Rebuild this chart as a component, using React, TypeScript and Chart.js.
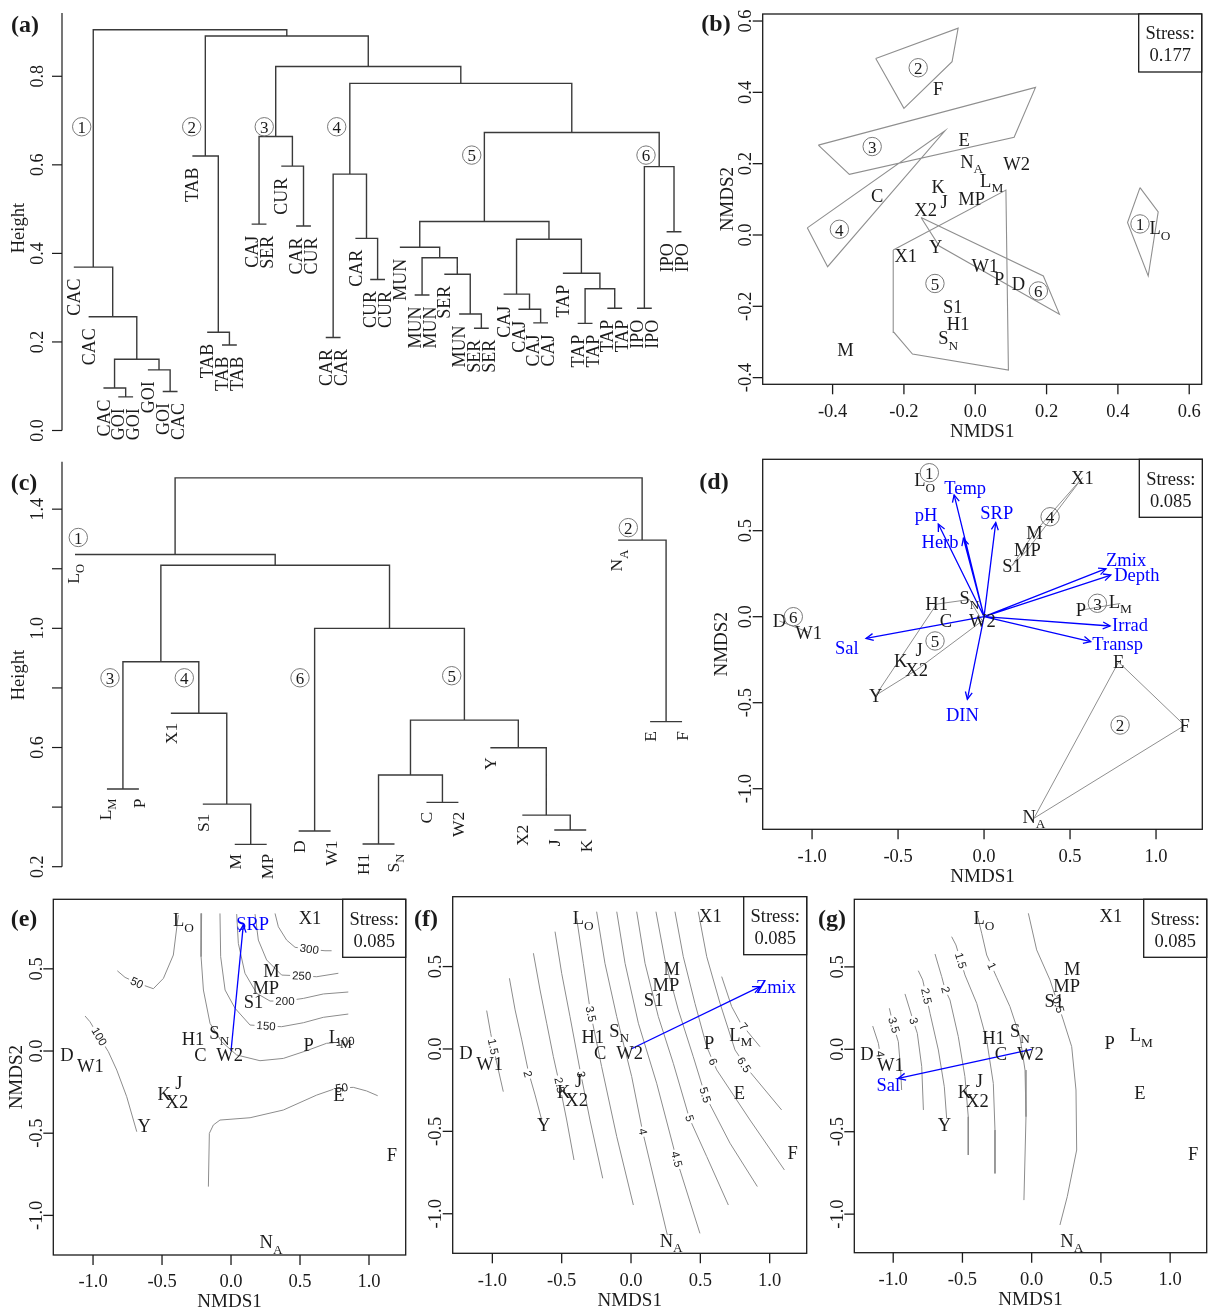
import React, { useEffect, useRef } from "react";
import { Chart, registerables } from "chart.js";

Chart.register(...registerables);

const SERIF = '"Liberation Serif", "Times New Roman", Times, serif';
const SANS = '"Liberation Sans", Arial, Helvetica, sans-serif';
const INK = "#1b1b1b";
const BLUE = "#0000ff";
const HULL = "#8f8f8f";
const CONTOUR = "#8c8c8c";
const TREE = "#3a3a3a";

/* ================= (a) sample dendrogram ================= */
const aLeafLabels = [
  "CAC", "CAC", "CAC", "GOI", "GOI", "GOI", "GOI", "CAC",
  "TAB", "TAB", "TAB", "TAB",
  "CAJ", "SER", "CUR", "CAR", "CUR",
  "CAR", "CAR", "CAR", "CUR", "CUR",
  "MUN", "MUN", "MUN", "SER", "MUN", "SER", "SER",
  "CAJ", "CAJ", "CAJ", "CAJ",
  "TAP", "TAP", "TAP", "TAP", "TAP",
  "IPO", "IPO", "IPO", "IPO",
];
// [left, right, height] : negative = leaf number, positive = earlier merge number
const aMerges = [
  [-4, -5, 0.076], [-3, 1, 0.096], [-7, -8, 0.088], [-6, 3, 0.137], [2, 4, 0.161],
  [-2, 5, 0.257], [-1, 6, 0.369],
  [-11, -12, 0.193], [-10, 8, 0.222], [-9, 9, 0.62],
  [-13, -14, 0.466], [-16, -17, 0.462], [-15, 12, 0.597], [11, 13, 0.664],
  [-18, -19, 0.21], [-21, -22, 0.341], [-20, 16, 0.434], [15, 17, 0.579],
  [-24, -25, 0.306], [-28, -29, 0.231], [-27, 20, 0.263], [-26, 21, 0.353], [19, 22, 0.39], [-23, 23, 0.414],
  [-32, -33, 0.243], [-31, 25, 0.274], [-30, 26, 0.308],
  [-35, -36, 0.242], [-37, -38, 0.276], [28, 29, 0.32], [-34, 30, 0.355], [27, 31, 0.432], [24, 32, 0.472],
  [-39, -40, 0.276], [-41, -42, 0.449], [34, 35, 0.596],
  [33, 36, 0.673], [18, 37, 0.784], [14, 38, 0.822], [10, 39, 0.891], [7, 40, 0.905],
];
const aHeightTicks = [0, 0.2, 0.4, 0.6, 0.8];
const aHeightTickLabels = ["0.0", "0.2", "0.4", "0.6", "0.8"];
const aGroupIds = [1, 2, 3, 4, 5, 6];
const aGroupX = [1.533, 8.955, 13.85, 18.74, 27.85, 39.61];
const aGroupY = [0.686, 0.686, 0.686, 0.686, 0.622, 0.622];

/* ================= (b) NMDS of samples ================= */
const bSiteNames = ["F", "E", "N_A", "W2", "K", "L_M", "C", "J", "MP", "X2", "L_O", "Y", "X1", "W1", "P", "D", "S1", "H1", "S_N", "M"];
const bSiteX = [-0.104, -0.031, -0.01, 0.116, -0.104, 0.046, -0.275, -0.087, -0.01, -0.139, 0.518, -0.111, -0.195, 0.027, 0.067, 0.121, -0.063, -0.048, -0.076, -0.364];
const bSiteY = [0.411, 0.268, 0.201, 0.201, 0.135, 0.148, 0.109, 0.093, 0.103, 0.072, 0.014, -0.033, -0.059, -0.087, -0.122, -0.136, -0.201, -0.248, -0.294, -0.322];
const bHull1 = [[0.462, 0.133], [0.513, 0.065], [0.485, -0.115], [0.427, 0.035]];
const bHull2 = [[-0.279, 0.495], [-0.048, 0.58], [-0.065, 0.486], [-0.2, 0.355]];
const bHull3 = [[-0.44, 0.252], [0.169, 0.414], [0.109, 0.274], [-0.353, 0.17]];
const bHull4 = [[-0.471, 0.02], [-0.085, 0.292], [-0.414, -0.089]];
const bHull5 = [[-0.23, -0.042], [0.086, 0.126], [0.093, -0.379], [-0.176, -0.334], [-0.228, -0.273]];
const bHull6 = [[-0.152, 0.049], [0.191, -0.115], [0.236, -0.222], [-0.101, -0.031]];
const bHulls = [bHull1, bHull2, bHull3, bHull4, bHull5, bHull6];
const bGroupIds = [1, 2, 3, 4, 5, 6];
const bGroupX = [0.462, -0.16, -0.289, -0.381, -0.113, 0.177];
const bGroupY = [0.031, 0.469, 0.248, 0.016, -0.136, -0.157];
const bTicks = [-0.4, -0.2, 0, 0.2, 0.4, 0.6];
const bTickLabels = ["-0.4", "-0.2", "0.0", "0.2", "0.4", "0.6"];
const bStress = "0.177";

/* ================= (c) site dendrogram ================= */
const cLeafLabels = ["L_O", "L_M", "P", "X1", "S1", "M", "MP", "D", "W1", "H1", "S_N", "C", "W2", "Y", "X2", "J", "K", "N_A", "E", "F"];
const cMerges = [
  [-2, -3, 0.461], [-6, -7, 0.275], [-5, 2, 0.41], [-4, 3, 0.715], [1, 4, 0.888],
  [-8, -9, 0.32], [-10, -11, 0.276], [-12, -13, 0.416], [7, 8, 0.508],
  [-16, -17, 0.323], [-15, 10, 0.373], [-14, 11, 0.599], [9, 12, 0.692],
  [6, 13, 1.0], [5, 14, 1.212], [-1, 15, 1.248],
  [-19, -20, 0.687], [-18, 17, 1.296], [16, 18, 1.505],
];
const cHeightTicks = [0.2, 0.4, 0.6, 0.8, 1.0, 1.2, 1.4];
const cHeightTickLabels = ["0.2", "", "0.6", "", "1.0", "", "1.4"];
const cGroupIds = [1, 3, 4, 6, 5, 2];
const cGroupX = [1.103, 2.095, 4.421, 8.042, 12.79, 18.318];
const cGroupY = [1.305, 0.834, 0.834, 0.834, 0.841, 1.338];

/* ================= (d)-(g) site NMDS ================= */
const siteNames = ["L_O", "X1", "M", "MP", "S1", "H1", "S_N", "C", "W2", "J", "K", "X2", "Y", "D", "W1", "P", "L_M", "E", "F", "N_A"];
const siteX = [-0.345, 0.572, 0.293, 0.252, 0.163, -0.276, -0.085, -0.222, -0.01, -0.378, -0.485, -0.392, -0.63, -1.19, -1.02, 0.563, 0.792, 0.782, 1.166, 0.29];
const siteY = [0.785, 0.808, 0.49, 0.388, 0.297, 0.073, 0.1, -0.024, -0.024, -0.191, -0.258, -0.309, -0.457, -0.025, -0.091, 0.038, 0.077, -0.264, -0.632, -1.172];
const dClusters = [
  ["L_O"],
  ["N_A", "E", "F"],
  ["L_M", "P"],
  ["X1", "S1", "M", "MP"],
  ["H1", "S_N", "C", "W2", "Y", "X2", "J", "K"],
  ["D", "W1"],
];
const dGroupIds = [1, 2, 3, 4, 5, 6];
const dGroupX = [-0.318, 0.791, 0.659, 0.384, -0.285, -1.109];
const dGroupY = [0.837, -0.63, 0.078, 0.581, -0.141, 0.0];
const dVectorNames = ["Temp", "pH", "Herb", "SRP", "Zmix", "Depth", "Irrad", "Transp", "Sal", "DIN"];
const dVectorX = [-0.174, -0.266, -0.12, 0.068, 0.709, 0.737, 0.733, 0.62, -0.686, -0.097];
const dVectorY = [0.708, 0.539, 0.456, 0.547, 0.279, 0.242, -0.054, -0.145, -0.126, -0.48];
const dVectorLabelX = [-0.11, -0.337, -0.256, 0.074, 0.826, 0.888, 0.849, 0.777, -0.798, -0.126];
const dVectorLabelY = [0.752, 0.591, 0.436, 0.605, 0.334, 0.242, -0.048, -0.155, -0.18, -0.571];
const ordXTicks = [-1, -0.5, 0, 0.5, 1];
const ordXTickLabels = ["-1.0", "-0.5", "0.0", "0.5", "1.0"];
const ordYTicks = [-1, -0.5, 0, 0.5];
const ordYTickLabels = ["-1.0", "-0.5", "0.0", "0.5"];
const ordStress = "0.085";

/* ---- (e) SRP surface ---- */
const eContourLevels = ["50", "100", "100", "150", "200", "250", "300", "50"];
const eContours = [
  [[-0.824, 0.488], [-0.768, 0.448], [-0.683, 0.415], [-0.563, 0.379], [-0.49, 0.442], [-0.418, 0.584], [-0.382, 0.827]],
  [[-1.058, 0.213], [-1.022, 0.178], [-0.957, 0.087], [-0.889, -0.004], [-0.828, -0.116], [-0.756, -0.278], [-0.683, -0.491]],
  [[-0.213, 0.837], [-0.217, 0.574], [-0.2, 0.371], [-0.152, 0.168], [-0.068, 0.057], [0.041, -0.024], [0.21, -0.059], [0.379, -0.045], [0.548, 0.002], [0.693, 0.047], [0.862, 0.057]],
  [[-0.08, 0.837], [-0.075, 0.574], [-0.043, 0.371], [0.029, 0.26], [0.138, 0.158], [0.254, 0.152], [0.367, 0.148], [0.524, 0.172], [0.669, 0.205], [0.85, 0.225]],
  [[0.041, 0.833], [0.053, 0.655], [0.101, 0.473], [0.186, 0.351], [0.283, 0.304], [0.391, 0.304], [0.524, 0.32], [0.669, 0.347], [0.85, 0.359]],
  [[0.174, 0.833], [0.198, 0.675], [0.258, 0.554], [0.367, 0.462], [0.512, 0.457], [0.621, 0.452], [0.778, 0.473]],
  [[0.319, 0.837], [0.343, 0.756], [0.403, 0.675], [0.464, 0.631], [0.567, 0.619], [0.681, 0.61], [0.729, 0.61]],
  [[-0.164, -0.825], [-0.157, -0.501], [-0.128, -0.45], [-0.08, -0.42], [0.138, -0.406], [0.379, -0.359], [0.621, -0.268], [0.741, -0.233], [0.802, -0.225], [0.886, -0.221], [0.983, -0.243], [1.063, -0.272]],
];
const eLabelX = [-0.683, -0.957, 0.826, 0.254, 0.391, 0.512, 0.567, 0.802];
const eLabelY = [0.415, 0.087, 0.057, 0.152, 0.304, 0.457, 0.619, -0.225];
const eVectorNames = ["SRP"];
const eVectorX = [0.089];
const eVectorY = [0.766];
const eVectorLabelX = [0.157];
const eVectorLabelY = [0.777];

/* ---- (f) Zmix surface ---- */
const fContourLevels = ["1.5", "2", "2.5", "3", "3.5", "4", "4.5", "5", "5.5", "6", "6.5", "7"];
const fContours = [
  [[-1.041, 0.233], [-1.012, 0.095], [-0.973, -0.067], [-0.921, -0.259]],
  [[-0.877, 0.429], [-0.836, 0.237], [-0.788, 0.055], [-0.74, -0.138], [-0.692, -0.279], [-0.644, -0.431]],
  [[-0.704, 0.581], [-0.656, 0.358], [-0.608, 0.156], [-0.56, -0.047], [-0.512, -0.229], [-0.464, -0.431], [-0.411, -0.674]],
  [[-0.548, 0.712], [-0.5, 0.459], [-0.44, 0.196], [-0.368, -0.127], [-0.296, -0.431], [-0.204, -0.785]],
  [[-0.392, 0.793], [-0.344, 0.52], [-0.291, 0.216], [-0.212, -0.107], [-0.103, -0.532], [0.017, -0.947]],
  [[-0.248, 0.833], [-0.188, 0.52], [-0.103, 0.196], [0.005, -0.168], [0.084, -0.502], [0.262, -1.129]],
  [[-0.103, 0.833], [-0.043, 0.52], [0.053, 0.156], [0.185, -0.208], [0.329, -0.67], [0.497, -1.119]],
  [[0.041, 0.833], [0.101, 0.52], [0.197, 0.196], [0.305, -0.087], [0.421, -0.421], [0.546, -0.653], [0.702, -0.947]],
  [[0.18, 0.833], [0.245, 0.54], [0.341, 0.237], [0.449, -0.047], [0.534, -0.279], [0.714, -0.572], [0.911, -0.835]],
  [[0.317, 0.833], [0.377, 0.56], [0.461, 0.277], [0.546, 0.014], [0.618, -0.127], [0.858, -0.431], [1.106, -0.734]],
  [[0.485, 0.833], [0.546, 0.56], [0.642, 0.277], [0.75, -0.006], [0.846, -0.127], [1.086, -0.37]],
  [[0.654, 0.439], [0.726, 0.257], [0.791, 0.156], [0.93, 0.014]],
];
const fLabelX = [-0.995, -0.745, -0.515, -0.36, -0.291, 0.084, 0.329, 0.421, 0.534, 0.59, 0.815, 0.81];
const fLabelY = [0.014, -0.152, -0.22, -0.154, 0.212, -0.502, -0.67, -0.421, -0.279, -0.077, -0.097, 0.136];
const fVectorNames = ["Zmix"];
const fVectorX = [0.93];
const fVectorY = [0.378];
const fVectorLabelX = [1.045];
const fVectorLabelY = [0.378];

/* ---- (g) Sal surface ---- */
const gContourLevels = ["4", "3.5", "3", "2.5", "2", "1.5", "1", "0.5"];
const gContours = [
  [[-1.148, 0.141], [-1.107, 0.036], [-1.095, -0.029]],
  [[-1.028, 0.249], [-0.999, 0.147], [-0.963, 0.046], [-0.946, -0.126], [-0.939, -0.247]],
  [[-0.915, 0.336], [-0.879, 0.238], [-0.855, 0.172], [-0.826, 0.097], [-0.794, -0.105], [-0.782, -0.368]],
  [[-0.819, 0.477], [-0.787, 0.421], [-0.761, 0.323], [-0.734, 0.218], [-0.674, -0.004], [-0.631, -0.227], [-0.614, -0.419]],
  [[-0.698, 0.578], [-0.65, 0.441], [-0.624, 0.36], [-0.59, 0.299], [-0.53, 0.077], [-0.482, -0.166], [-0.458, -0.409], [-0.458, -0.641]],
  [[-0.578, 0.683], [-0.547, 0.633], [-0.513, 0.538], [-0.482, 0.451], [-0.397, 0.279], [-0.325, 0.056], [-0.277, -0.207], [-0.265, -0.49], [-0.265, -0.753]],
  [[-0.397, 0.825], [-0.361, 0.704], [-0.325, 0.572], [-0.289, 0.505], [-0.253, 0.437], [-0.157, 0.259], [-0.085, 0.077], [-0.048, -0.126], [-0.041, -0.409], [-0.056, -0.915]],
  [[-0.024, 0.825], [0.036, 0.603], [0.132, 0.421], [0.192, 0.269], [0.228, 0.178], [0.289, 0.016], [0.32, -0.247], [0.325, -0.611], [0.257, -0.894], [0.204, -1.066]],
];
const gLabelX = [-1.095, -0.995, -0.854, -0.761, -0.624, -0.513, -0.289, 0.192];
const gLabelY = [-0.029, 0.147, 0.172, 0.323, 0.36, 0.538, 0.505, 0.269];
const gVectorNames = ["Sal"];
const gVectorX = [-0.963];
const gVectorY = [-0.176];
const gVectorLabelX = [-1.035];
const gVectorLabelY = [-0.217];

/* ================= helpers ================= */
type TOpts = { size: number; color?: string; align?: string; rotate?: number; bold?: boolean; family?: string };

function drawText(ctx: CanvasRenderingContext2D, text: string, x: number, y: number, o: TOpts) {
  const size = o.size;
  const fam = o.family || SERIF;
  const wt = o.bold ? "bold " : "";
  const parts = text.split("_");
  const main = parts[0];
  const sub = parts[1] || "";
  const subSize = size * 0.72;
  ctx.save();
  ctx.translate(x, y);
  if (o.rotate) ctx.rotate(o.rotate);
  ctx.textAlign = "left";
  ctx.textBaseline = "alphabetic";
  ctx.fillStyle = o.color || INK;
  ctx.font = `${wt}${size}px ${fam}`;
  const wm = ctx.measureText(main).width;
  let ws = 0;
  if (sub) {
    ctx.font = `${wt}${subSize}px ${fam}`;
    ws = ctx.measureText(sub).width;
  }
  const total = wm + ws;
  const x0 = o.align === "right" ? -total : o.align === "left" ? 0 : -total / 2;
  const base = size * 0.34 - (sub ? size * 0.1 : 0);
  ctx.font = `${wt}${size}px ${fam}`;
  ctx.fillText(main, x0, base);
  if (sub) {
    ctx.font = `${wt}${subSize}px ${fam}`;
    ctx.fillText(sub, x0 + wm, base + size * 0.3);
  }
  ctx.restore();
}

function seg(ctx: CanvasRenderingContext2D, x0: number, y0: number, x1: number, y1: number) {
  ctx.beginPath();
  ctx.moveTo(x0, y0);
  ctx.lineTo(x1, y1);
  ctx.stroke();
}

function drawCircled(ctx: CanvasRenderingContext2D, x: number, y: number, n: number) {
  ctx.save();
  ctx.strokeStyle = "#7a7a7a";
  ctx.lineWidth = 1;
  ctx.beginPath();
  ctx.arc(x, y, 9.2, 0, Math.PI * 2);
  ctx.stroke();
  ctx.restore();
  drawText(ctx, String(n), x, y + 0.5, { size: 17 });
}

function dendroGeometry(merges: number[][]) {
  const nodeX: number[] = [];
  const nodeH: number[] = [];
  const leafTop: Record<number, number> = {};
  const pts: number[][] = [];
  merges.forEach(([l, r, h]) => {
    const xl = l < 0 ? -l : nodeX[l - 1];
    const xr = r < 0 ? -r : nodeX[r - 1];
    const hl = l < 0 ? h : nodeH[l - 1];
    const hr = r < 0 ? h : nodeH[r - 1];
    if (l < 0) leafTop[-l] = h;
    if (r < 0) leafTop[-r] = h;
    pts.push([xl, hl], [xl, h], [xr, h], [xr, hr], [NaN, NaN]);
    nodeX.push((xl + xr) / 2);
    nodeH.push(h);
  });
  return { pts, leafTop };
}

function convexHull(points: number[][]) {
  const p = points.slice().sort((a, b) => a[0] - b[0] || a[1] - b[1]);
  if (p.length < 3) return p;
  const cross = (o: number[], a: number[], b: number[]) => (a[0] - o[0]) * (b[1] - o[1]) - (a[1] - o[1]) * (b[0] - o[0]);
  const lower: number[][] = [];
  for (const q of p) {
    while (lower.length >= 2 && cross(lower[lower.length - 2], lower[lower.length - 1], q) <= 0) lower.pop();
    lower.push(q);
  }
  const upper: number[][] = [];
  for (const q of p.slice().reverse()) {
    while (upper.length >= 2 && cross(upper[upper.length - 2], upper[upper.length - 1], q) <= 0) upper.pop();
    upper.push(q);
  }
  upper.pop();
  lower.pop();
  return lower.concat(upper);
}

const closed = (poly: number[][]) => poly.concat([poly[0]]);
function joinPaths(paths: number[][][]) {
  const out: number[][] = [];
  paths.forEach((p) => {
    p.forEach((q) => out.push(q));
    out.push([NaN, NaN]);
  });
  return out;
}
function lineDataset(pts: number[][], color: string, width: number) {
  return {
    data: pts.map(([x, y]) => ({ x, y })),
    showLine: true,
    borderColor: color,
    backgroundColor: color,
    borderWidth: width,
    pointRadius: 0,
    pointHoverRadius: 0,
    tension: 0,
    spanGaps: false,
    fill: false,
  };
}
function pointDataset(xs: number[], ys: number[]) {
  return { data: xs.map((x, i) => ({ x, y: ys[i] })), showLine: false, pointRadius: 0, pointHoverRadius: 0, borderWidth: 0 };
}
function vectorPaths(xs: number[], ys: number[]) {
  return joinPaths(xs.map((x, i) => [[0, 0], [x, ys[i]]]));
}

function drawDendroDeco(ctx: CanvasRenderingContext2D, ch: any, cfg: any) {
  const A = ch.chartArea, X = ch.scales.x, Y = ch.scales.y;
  ctx.save();
  ctx.strokeStyle = INK;
  ctx.lineWidth = 1.2;
  const ax = A.left;
  seg(ctx, ax, Y.getPixelForValue(cfg.axisFrom), ax, Y.getPixelForValue(cfg.axisTo));
  cfg.ticks.forEach((t: number, i: number) => {
    const y = Y.getPixelForValue(t);
    seg(ctx, ax, y, ax - 10, y);
    if (cfg.tickLabels[i]) drawText(ctx, cfg.tickLabels[i], ax - 25, y, { size: 18, rotate: -Math.PI / 2 });
  });
  drawText(ctx, "Height", ax - 44, Y.getPixelForValue(cfg.titleAt), { size: 18.5, rotate: -Math.PI / 2 });
  cfg.labels.forEach((lab: string, i: number) => {
    const x = X.getPixelForValue(i + 1);
    const y = Y.getPixelForValue(cfg.leafTop[i + 1]) + cfg.gap;
    drawText(ctx, lab, x, y, { size: cfg.labelSize, rotate: -Math.PI / 2, align: "right" });
  });
  cfg.groupIds.forEach((g: number, i: number) =>
    drawCircled(ctx, X.getPixelForValue(cfg.groupX[i]), Y.getPixelForValue(cfg.groupY[i]), g)
  );
  drawText(ctx, cfg.letter, A.left + cfg.letterDx, A.top + cfg.letterDy, { size: 24, bold: true });
  ctx.restore();
}

function drawOrdFrame(ctx: CanvasRenderingContext2D, ch: any, cfg: any) {
  const A = ch.chartArea, X = ch.scales.x, Y = ch.scales.y;
  ctx.save();
  ctx.strokeStyle = INK;
  ctx.lineWidth = 1.3;
  ctx.strokeRect(A.left, A.top, A.right - A.left, A.bottom - A.top);
  cfg.xTicks.forEach((t: number, i: number) => {
    const x = X.getPixelForValue(t);
    seg(ctx, x, A.bottom, x, A.bottom + 10);
    drawText(ctx, cfg.xLabels[i], x, A.bottom + 26, { size: 18.5 });
  });
  cfg.yTicks.forEach((t: number, i: number) => {
    const y = Y.getPixelForValue(t);
    seg(ctx, A.left, y, A.left - 10, y);
    drawText(ctx, cfg.yLabels[i], A.left - 18, y, { size: 18.5, rotate: -Math.PI / 2 });
  });
  drawText(ctx, "NMDS1", (A.left + A.right) / 2, A.bottom + 46, { size: 19 });
  if (cfg.yTitleOff) drawText(ctx, "NMDS2", A.left - cfg.yTitleOff, (A.top + A.bottom) / 2, { size: 19, rotate: -Math.PI / 2 });
  ctx.restore();
}

function drawStress(ctx: CanvasRenderingContext2D, ch: any, value: string) {
  const A = ch.chartArea;
  const w = 63, h = 58;
  ctx.save();
  ctx.fillStyle = "#fff";
  ctx.fillRect(A.right - w, A.top, w, h);
  ctx.strokeStyle = INK;
  ctx.lineWidth = 1.3;
  ctx.strokeRect(A.right - w, A.top, w, h);
  ctx.restore();
  drawText(ctx, "Stress:", A.right - w / 2, A.top + 19, { size: 18.5 });
  drawText(ctx, value, A.right - w / 2, A.top + 41, { size: 18.5 });
}

function drawSites(ctx: CanvasRenderingContext2D, ch: any, names: string[], xs: number[], ys: number[]) {
  const X = ch.scales.x, Y = ch.scales.y;
  names.forEach((n, i) => drawText(ctx, n, X.getPixelForValue(xs[i]), Y.getPixelForValue(ys[i]), { size: 18.5 }));
}

function drawVectorDeco(ctx: CanvasRenderingContext2D, ch: any, names: string[], xs: number[], ys: number[], lx: number[], ly: number[]) {
  const X = ch.scales.x, Y = ch.scales.y;
  const x0 = X.getPixelForValue(0), y0 = Y.getPixelForValue(0);
  ctx.save();
  ctx.strokeStyle = BLUE;
  ctx.lineWidth = 1.3;
  xs.forEach((vx, i) => {
    const x1 = X.getPixelForValue(vx), y1 = Y.getPixelForValue(ys[i]);
    const a = Math.atan2(y1 - y0, x1 - x0);
    const len = 8, ang = Math.PI / 7;
    ctx.beginPath();
    ctx.moveTo(x1 - len * Math.cos(a - ang), y1 - len * Math.sin(a - ang));
    ctx.lineTo(x1, y1);
    ctx.lineTo(x1 - len * Math.cos(a + ang), y1 - len * Math.sin(a + ang));
    ctx.stroke();
  });
  ctx.restore();
  names.forEach((n, i) => drawText(ctx, n, X.getPixelForValue(lx[i]), Y.getPixelForValue(ly[i]), { size: 18.5, color: BLUE }));
}

function drawContourLabels(ctx: CanvasRenderingContext2D, ch: any, lines: number[][][], levels: string[], lx: number[], ly: number[]) {
  const X = ch.scales.x, Y = ch.scales.y;
  levels.forEach((lev, k) => {
    const px = X.getPixelForValue(lx[k]), py = Y.getPixelForValue(ly[k]);
    const pts = lines[k].map(([x, y]) => [X.getPixelForValue(x), Y.getPixelForValue(y)]);
    let best = Infinity, ang = 0;
    for (let i = 0; i < pts.length - 1; i++) {
      const [ax, ay] = pts[i], [bx, by] = pts[i + 1];
      const dx = bx - ax, dy = by - ay;
      const t = Math.max(0, Math.min(1, ((px - ax) * dx + (py - ay) * dy) / (dx * dx + dy * dy || 1)));
      const d = Math.hypot(ax + t * dx - px, ay + t * dy - py);
      if (d < best) { best = d; ang = Math.atan2(dy, dx); }
    }
    if (ang > Math.PI / 2) ang -= Math.PI;
    if (ang < -Math.PI / 2) ang += Math.PI;
    ctx.save();
    ctx.translate(px, py);
    ctx.rotate(ang);
    ctx.font = `11.5px ${SANS}`;
    const w = ctx.measureText(lev).width;
    ctx.fillStyle = "#fff";
    ctx.fillRect(-w / 2 - 2, -6, w + 4, 12);
    ctx.fillStyle = "#222";
    ctx.textAlign = "center";
    ctx.textBaseline = "middle";
    ctx.fillText(lev, 0, 0.5);
    ctx.restore();
  });
}

/* ================= panel specs ================= */
type Spec = {
  left: number; top: number; width: number; height: number;
  area: { l: number; r: number; t: number; b: number };
  xr: number[]; yr: number[];
  datasets: any[];
  draw: (ctx: CanvasRenderingContext2D, ch: any) => void;
};

const aGeo = dendroGeometry(aMerges);
const cGeo = dendroGeometry(cMerges);

const panelA: Spec = {
  left: 0, top: 0, width: 700, height: 455,
  area: { l: 62, r: 695, t: 10, b: 430.5 },
  xr: [0.2038, 42.916], yr: [0, 0.9497],
  datasets: [lineDataset(aGeo.pts, TREE, 1.4)],
  draw: (ctx, ch) =>
    drawDendroDeco(ctx, ch, {
      axisFrom: 0, axisTo: 0.943, ticks: aHeightTicks, tickLabels: aHeightTickLabels, titleAt: 0.457,
      labels: aLeafLabels, leafTop: aGeo.leafTop, gap: 11.5, labelSize: 18,
      groupIds: aGroupIds, groupX: aGroupX, groupY: aGroupY, letter: "(a)", letterDx: -37, letterDy: 14,
    }),
};

const panelC: Spec = {
  left: 0, top: 455, width: 700, height: 435,
  area: { l: 62, r: 695, t: 460, b: 866.7 },
  xr: [0.5931, 20.405], yr: [0.2, 1.565],
  datasets: [lineDataset(cGeo.pts, TREE, 1.4)],
  draw: (ctx, ch) =>
    drawDendroDeco(ctx, ch, {
      axisFrom: 0.2, axisTo: 1.559, ticks: cHeightTicks, tickLabels: cHeightTickLabels, titleAt: 0.843,
      labels: cLeafLabels, leafTop: cGeo.leafTop, gap: 9.5, labelSize: 17.5,
      groupIds: cGroupIds, groupX: cGroupX, groupY: cGroupY, letter: "(c)", letterDx: -38, letterDy: 22,
    }),
};

const panelB: Spec = {
  left: 700, top: 0, width: 510, height: 450,
  area: { l: 762.7, r: 1201.7, t: 14, b: 384.3 },
  xr: [-0.596, 0.635], yr: [-0.4187, 0.6197],
  datasets: [lineDataset(joinPaths(bHulls.map(closed)), HULL, 1.1), pointDataset(bSiteX, bSiteY)],
  draw: (ctx, ch) => {
    const X = ch.scales.x, Y = ch.scales.y, A = ch.chartArea;
    drawOrdFrame(ctx, ch, { xTicks: bTicks, xLabels: bTickLabels, yTicks: bTicks, yLabels: bTickLabels, yTitleOff: 36 });
    drawSites(ctx, ch, bSiteNames, bSiteX, bSiteY);
    bGroupIds.forEach((g, i) => drawCircled(ctx, X.getPixelForValue(bGroupX[i]), Y.getPixelForValue(bGroupY[i]), g));
    drawStress(ctx, ch, bStress);
    drawText(ctx, "(b)", A.left - 46.7, A.top + 9, { size: 24, bold: true });
  },
};

const siteXY = (n: string) => {
  const i = siteNames.indexOf(n);
  return [siteX[i], siteY[i]];
};
const dHullPaths = dClusters
  .filter((c) => c.length > 1)
  .map((c) => {
    const h = convexHull(c.map(siteXY));
    return h.length > 2 ? closed(h) : h;
  });

const panelD: Spec = {
  left: 700, top: 450, width: 510, height: 440,
  area: { l: 762.7, r: 1202.3, t: 459.3, b: 829.3 },
  xr: [-1.287, 1.269], yr: [-1.236, 0.915],
  datasets: [
    lineDataset(vectorPaths(dVectorX, dVectorY), BLUE, 1.3),
    lineDataset(joinPaths(dHullPaths), HULL, 1),
    pointDataset(siteX, siteY),
  ],
  draw: (ctx, ch) => {
    const X = ch.scales.x, Y = ch.scales.y, A = ch.chartArea;
    drawOrdFrame(ctx, ch, { xTicks: ordXTicks, xLabels: ordXTickLabels, yTicks: ordYTicks, yLabels: ordYTickLabels, yTitleOff: 42 });
    drawSites(ctx, ch, siteNames, siteX, siteY);
    drawVectorDeco(ctx, ch, dVectorNames, dVectorX, dVectorY, dVectorLabelX, dVectorLabelY);
    dGroupIds.forEach((g, i) => drawCircled(ctx, X.getPixelForValue(dGroupX[i]), Y.getPixelForValue(dGroupY[i]), g));
    drawStress(ctx, ch, ordStress);
    drawText(ctx, "(d)", A.left - 48.7, A.top + 21.7, { size: 24, bold: true });
  },
};

function surfacePanel(o: any): Spec {
  return {
    left: o.left, top: 890, width: o.width, height: 421,
    area: o.area, xr: o.xr, yr: o.yr,
    datasets: [
      lineDataset(vectorPaths(o.vx, o.vy), BLUE, 1.3),
      lineDataset(joinPaths(o.contours), CONTOUR, 1),
      pointDataset(siteX, siteY),
    ],
    draw: (ctx, ch) => {
      const A = ch.chartArea;
      drawOrdFrame(ctx, ch, { xTicks: ordXTicks, xLabels: ordXTickLabels, yTicks: ordYTicks, yLabels: ordYTickLabels, yTitleOff: o.yTitleOff });
      drawContourLabels(ctx, ch, o.contours, o.levels, o.lx, o.ly);
      drawVectorDeco(ctx, ch, o.vn, o.vx, o.vy, o.vlx, o.vly);
      drawSites(ctx, ch, siteNames, siteX, siteY);
      drawStress(ctx, ch, ordStress);
      drawText(ctx, o.letter, A.left + o.letterDx, A.top + o.letterDy, { size: 24, bold: true });
    },
  };
}

const panelE = surfacePanel({
  left: 0, width: 412, area: { l: 53.3, r: 405.7, t: 899.3, b: 1255 }, xr: [-1.288, 1.266], yr: [-1.241, 0.923],
  contours: eContours, levels: eContourLevels, lx: eLabelX, ly: eLabelY,
  vn: eVectorNames, vx: eVectorX, vy: eVectorY, vlx: eVectorLabelX, vly: eVectorLabelY,
  yTitleOff: 38, letter: "(e)", letterDx: -29.3, letterDy: 18.7,
});
const panelF = surfacePanel({
  left: 410, width: 405, area: { l: 452.7, r: 806.7, t: 896.7, b: 1253.3 }, xr: [-1.286, 1.267], yr: [-1.24, 0.924],
  contours: fContours, levels: fContourLevels, lx: fLabelX, ly: fLabelY,
  vn: fVectorNames, vx: fVectorX, vy: fVectorY, vlx: fVectorLabelX, vly: fVectorLabelY,
  yTitleOff: 0, letter: "(f)", letterDx: -26.7, letterDy: 21.3,
});
const panelG = surfacePanel({
  left: 812, width: 398, area: { l: 854.3, r: 1206.7, t: 899.3, b: 1252.7 }, xr: [-1.281, 1.264], yr: [-1.234, 0.91],
  contours: gContours, levels: gContourLevels, lx: gLabelX, ly: gLabelY,
  vn: gVectorNames, vx: gVectorX, vy: gVectorY, vlx: gVectorLabelX, vly: gVectorLabelY,
  yTitleOff: 0, letter: "(g)", letterDx: -22.3, letterDy: 18.7,
});

const PANELS = [panelA, panelB, panelC, panelD, panelE, panelF, panelG];

function ChartPanel({ spec }: { spec: Spec }) {
  const ref = useRef<HTMLCanvasElement | null>(null);
  useEffect(() => {
    const canvas = ref.current;
    if (!canvas) return;
    const chart = new Chart(canvas, {
      type: "scatter",
      data: { datasets: spec.datasets },
      options: {
        animation: false,
        responsive: false,
        maintainAspectRatio: false,
        devicePixelRatio: 1,
        events: [],
        layout: {
          padding: {
            left: spec.area.l - spec.left,
            right: spec.left + spec.width - spec.area.r,
            top: spec.area.t - spec.top,
            bottom: spec.top + spec.height - spec.area.b,
          },
        },
        plugins: { legend: { display: false }, tooltip: { enabled: false }, title: { display: false } },
        scales: {
          x: { type: "linear", min: spec.xr[0], max: spec.xr[1], display: false },
          y: { type: "linear", min: spec.yr[0], max: spec.yr[1], display: false },
        },
      } as any,
      plugins: [{ id: "deco", afterDatasetsDraw: (ch: any) => spec.draw(ch.ctx, ch) }],
    } as any);
    return () => chart.destroy();
  }, [spec]);
  return (
    <canvas
      ref={ref}
      width={spec.width}
      height={spec.height}
      style={{ position: "absolute", left: spec.left, top: spec.top, width: spec.width, height: spec.height }}
    />
  );
}

export default function App() {
  return (
    <div style={{ position: "absolute", left: 0, top: 0, width: 1210, height: 1311, background: "#fff", overflow: "hidden" }}>
      {PANELS.map((p, i) => (
        <ChartPanel key={i} spec={p} />
      ))}
    </div>
  );
}
